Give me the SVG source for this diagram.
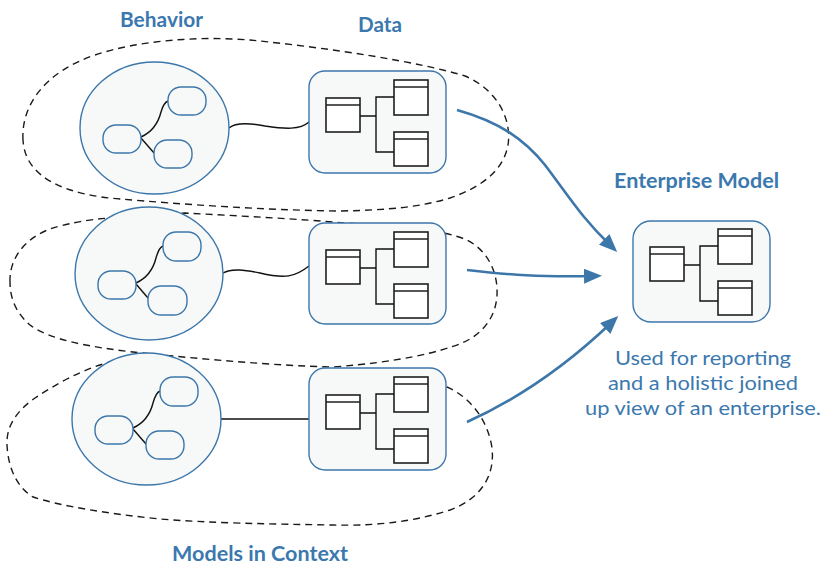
<svg xmlns="http://www.w3.org/2000/svg" width="823" height="564" viewBox="0 0 823 564">
  <defs>
    <style>
      .ctx { fill: none; stroke: #1a1a1a; stroke-width: 1.4; stroke-dasharray: 7 5; }
      .bcircle { fill: #f7f9f9; stroke: #3d77aa; stroke-width: 1.4; }
      .pill { fill: #f7f9f9; stroke: #3d77aa; stroke-width: 1.4; }
      .dbox { fill: #f7f9f9; stroke: #3d77aa; stroke-width: 1.4; }
      .tbl { fill: #ffffff; stroke: #1f1f1f; stroke-width: 1.6; }
      .wire { fill: none; stroke: #111111; stroke-width: 1.4; }
      .arrow { fill: none; stroke: #3d77aa; stroke-width: 2.6; marker-end: url(#ah); }
      .title { font-family: "Lato", "Noto Sans", sans-serif; font-weight: 700; font-size: 20px; fill: #3b78ae; text-anchor: middle; }
      .caption { font-family: "Lato", "Noto Sans", sans-serif; font-size: 19px; fill: #3b78ae; text-anchor: middle; }
    </style>
    <marker id="ah" viewBox="0 0 18 15" refX="8" refY="7.5" markerWidth="18" markerHeight="15" markerUnits="userSpaceOnUse" orient="auto">
      <path d="M0,0 L18,7.5 L0,15 Z" fill="#3d77aa"/>
    </marker>
    <g id="tables">
      <rect class="tbl" x="0" y="18" width="34" height="34"/>
      <line class="tbl" x1="0" y1="25" x2="34" y2="25"/>
      <rect class="tbl" x="68" y="0" width="34" height="35"/>
      <line class="tbl" x1="68" y1="7" x2="102" y2="7"/>
      <rect class="tbl" x="68" y="52" width="34" height="34"/>
      <line class="tbl" x1="68" y1="59" x2="102" y2="59"/>
      <path class="wire" d="M34,36 H50 M68,17 H50 V72 H68" stroke-width="1.5"/>
    </g>
  </defs>

  <g id="contexts">
    <path id="context-1" class="ctx" d="M23,140 C21,105 45,72 95,55 C140,40 200,36 250,40 C330,48 420,62 465,76 C498,90 512,120 508,145 C504,168 485,186 450,198 C420,207 390,210 340,211 C260,210 180,204 120,199 C70,195 25,180 23,140 Z"/>
    <path id="context-2" class="ctx" d="M10,282 C9,255 30,233 60,226 C80,221 95,219 110,218 L185,213 C240,216 300,219 345,223 C400,226 440,229 467,240 C490,252 498,275 497,295 C496,315 485,333 462,343 C440,352 400,362 333,367 C280,366 200,359 133,352 C90,347 50,340 30,325 C15,312 10,297 10,282 Z"/>
    <path id="context-3" class="ctx" d="M400,376 C420,378 435,382 447,387 C470,397 488,420 492,448 C495,475 482,498 450,510 C410,523 370,526 333,525 C270,524 210,523 160,519 C110,514 60,506 33,497 C15,486 8,465 7,445 C6,425 18,410 35,398 C55,385 80,370 110,362 C130,359 145,360 160,362"/>
  </g>

  <g id="connectors">
    <path class="wire" d="M229,128 C236,122 250,123 265,126 C285,129 300,130 309,122"/>
    <path class="wire" d="M223,273 C232,268 245,270 260,273 C285,279 295,277 309,266"/>
    <path class="wire" d="M221,419 H309"/>
    <path class="arrow" d="M457,110 C500,122 525,140 545,165 C570,198 582,218 610,245"/>
    <path class="arrow" d="M467,270 C510,275 540,277 592,276"/>
    <path class="arrow" d="M467,422 C520,398 570,362 611,323"/>
  </g>

  <g id="behavior-1">
    <ellipse class="bcircle" cx="154.5" cy="128" rx="74.5" ry="66"/>
    <path class="wire" d="M141,137 C152,132 158,124 161,112 C163,105 165,102 168,101"/>
    <path class="wire" d="M141,138 L154,153"/>
    <rect class="pill" x="103" y="125" width="38" height="28" rx="13"/>
    <rect class="pill" x="168" y="87" width="38" height="28" rx="13"/>
    <rect class="pill" x="154" y="140" width="38" height="28" rx="13"/>
  </g>
  <g id="data-1">
    <rect class="dbox" x="309" y="71" width="137" height="102" rx="16"/>
    <use href="#tables" x="326" y="80"/>
  </g>

  <g id="behavior-2">
    <ellipse class="bcircle" cx="149" cy="273.5" rx="74" ry="66.5"/>
    <path class="wire" d="M136,283 C147,278 153,270 156,258 C158,251 160,247 163,246"/>
    <path class="wire" d="M136,284 L148,298"/>
    <rect class="pill" x="98" y="271" width="38" height="28" rx="13"/>
    <rect class="pill" x="163" y="232" width="38" height="29" rx="13"/>
    <rect class="pill" x="148" y="286" width="39" height="29" rx="13"/>
  </g>
  <g id="data-2">
    <rect class="dbox" x="309" y="223" width="137" height="101" rx="16"/>
    <use href="#tables" x="326" y="232"/>
  </g>

  <g id="behavior-3">
    <ellipse class="bcircle" cx="146.5" cy="419" rx="74.5" ry="66"/>
    <path class="wire" d="M133,428 C144,423 150,415 153,403 C155,396 157,392 160,391"/>
    <path class="wire" d="M133,429 L146,444"/>
    <rect class="pill" x="95" y="416" width="38" height="28" rx="13"/>
    <rect class="pill" x="160" y="377" width="38" height="29" rx="13"/>
    <rect class="pill" x="146" y="431" width="38" height="28" rx="13"/>
  </g>
  <g id="data-3">
    <rect class="dbox" x="309" y="368" width="137" height="102" rx="16"/>
    <use href="#tables" x="326" y="377"/>
  </g>

  <g id="enterprise-model">
    <rect class="dbox" x="633" y="221" width="137" height="101" rx="18"/>
    <use href="#tables" x="650" y="229"/>
  </g>

  <g id="labels">
    <text class="title" x="161.5" y="27" textLength="83" lengthAdjust="spacingAndGlyphs">Behavior</text>
    <text class="title" x="380" y="32" textLength="44" lengthAdjust="spacingAndGlyphs">Data</text>
    <text class="title" x="696.5" y="188" textLength="165" lengthAdjust="spacingAndGlyphs">Enterprise Model</text>
    <text class="title" x="260" y="561" textLength="176" lengthAdjust="spacingAndGlyphs">Models in Context</text>
    <text class="caption" x="703" y="365" textLength="176" lengthAdjust="spacingAndGlyphs">Used for reporting</text>
    <text class="caption" x="703" y="390" textLength="190" lengthAdjust="spacingAndGlyphs">and a holistic joined</text>
    <text class="caption" x="703" y="415" textLength="236" lengthAdjust="spacingAndGlyphs">up view of an enterprise.</text>
  </g>
</svg>
